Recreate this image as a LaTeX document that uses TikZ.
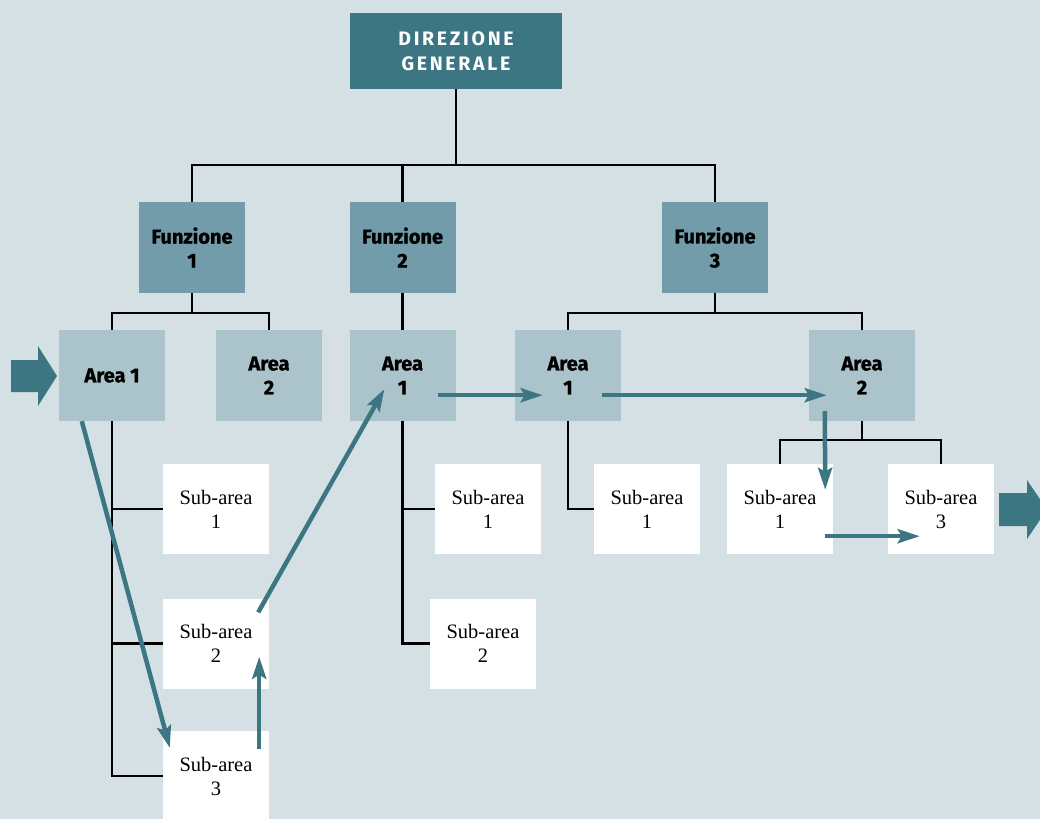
\documentclass[tikz,border=0pt]{standalone}
\usepackage{fontspec}
\setmainfont{Liberation Serif}
\setsansfont{Fira Sans}
\newfontfamily\headfont{Fira Sans}[LetterSpace=14]
\newfontfamily\heavyfont{Fira Sans}[BoldFeatures={FakeBold=1.2}]
\usetikzlibrary{arrows.meta,calc}
\definecolor{bg}{HTML}{D5E0E5}
\definecolor{darkteal}{HTML}{3C7683}
\definecolor{fnblue}{HTML}{729CAA}
\definecolor{arblue}{HTML}{ABC3CB}
\tikzset{
  box/.style={rectangle, inner sep=0pt, minimum width=106pt, minimum height=91pt, align=center},
  headbox/.style={box, minimum width=212pt, minimum height=76pt, fill=darkteal, text=white,
    font=\headfont\bfseries\fontsize{19.5}{25}\selectfont},
  funcbox/.style={box, fill=fnblue, font=\heavyfont\bfseries\fontsize{20}{24}\selectfont},
  areabox/.style={box, fill=arblue, font=\heavyfont\bfseries\fontsize{20}{24}\selectfont},
  subbox/.style={box, minimum height=90pt, fill=white, font=\rmfamily\fontsize{20.5}{24}\selectfont},
  link/.style={draw=black, line width=2.3pt},
  flow/.style={draw=darkteal, line width=4.5pt, -{Stealth[length=22pt,width=14pt,inset=4pt]}}
}
\begin{document}
\begin{tikzpicture}[x=1pt,y=-1pt]
\useasboundingbox (0,0) rectangle (1040,819);
\fill[bg] (0,0) rectangle (1040,819);
\clip (0,0) rectangle (1040,819);

% levels of the hierarchy
\node[headbox] (dg) at (456,51) {DIREZIONE\\GENERALE};
\node[funcbox] (f1) at (192,247.5) {Funzione\\1};
\node[funcbox] (f2) at (402.5,247.5) {Funzione\\2};
\node[funcbox] (f3) at (715,247.5) {Funzione\\3};

\node[areabox] (a11) at (112,375.5) {Area 1};
\node[areabox] (a12) at (269,375.5) {Area\\2};
\node[areabox] (a21) at (402.5,375.5) {Area\\1};
\node[areabox] (a31) at (568,375.5) {Area\\1};
\node[areabox] (a32) at (862,375.5) {Area\\2};

\node[subbox] (s11) at (216,509) {Sub-area\\1};
\node[subbox] (s12) at (216,643.5) {Sub-area\\2};
\node[subbox] (s13) at (216,776) {Sub-area\\3};
\node[subbox] (s21) at (488,509) {Sub-area\\1};
\node[subbox] (s22) at (483,643.5) {Sub-area\\2};
\node[subbox] (s31) at (647,509) {Sub-area\\1};
\node[subbox] (s321) at (780,509) {Sub-area\\1};
\node[subbox] (s323) at (941,509) {Sub-area\\3};

% bus levels of the tree
\coordinate (bus0) at (0,165);
\coordinate (bus1) at (0,313);
\coordinate (bus2) at (0,440);

% tree connectors
\draw[link] (dg.south) -- (dg.south |- bus0);
\draw[link] (f1.north) |- (f3.north |- bus0) -- (f3.north);
\draw[link] (f2.north) -- (f2.north |- bus0);

\draw[link] (f1.south) -- (f1.south |- bus1);
\draw[link] (a11.north) |- (a12.north |- bus1) -- (a12.north);
\draw[link] (f2.south) -- (a21.north);
\draw[link] (f3.south) -- (f3.south |- bus1);
\draw[link] (a31.north) |- (a32.north |- bus1) -- (a32.north);

\draw[link] (a11.south) |- (s13.west);
\draw[link] (s11.west) -- (s11.west -| a11.south);
\draw[link] (s12.west) -- (s12.west -| a11.south);
\draw[link] (a21.south) |- (s22.west);
\draw[link] (s21.west) -- (s21.west -| a21.south);
\draw[link] (a31.south) |- (s31.west);
\draw[link] (a32.south) -- (a32.south |- bus2);
\draw[link] (s321.north) |- (s323.north |- bus2) -- (s323.north);

% entry and exit arrows
\fill[darkteal] (11,360) -- (38,360) -- (38,346) -- (57,376) -- (38,406) -- (38,392) -- (11,392) -- cycle;
\fill[darkteal] (999,493) -- (1027,493) -- (1027,480) -- (1047,509.5) -- (1027,539) -- (1027,526) -- (999,526) -- cycle;

% flow path
\draw[flow] ($(a11.south west)+(23,0)$) -- ($(s13.north west)+(7,17)$);
\draw[flow] ($(s13.north east)+(-10,18)$) -- ($(s12.south east)+(-10,-32)$);
\draw[flow] ($(s12.north east)+(-11,14)$) -- ($(a21.south west)+(35,-32)$);
\draw[flow] ($(a21.south east)+(-18,-26)$) -- ($(a31.south west)+(28,-26)$);
\draw[flow] ($(a31.south east)+(-19,-26)$) -- ($(a32.south west)+(18,-26)$);
\draw[flow] ($(a32.south west)+(16,-10)$) -- ($(s321.north east)+(-8,26)$);
\draw[flow] ($(s321.south east)+(-8,-18)$) -- ($(s323.south west)+(32,-18)$);
\end{tikzpicture}
\end{document}
